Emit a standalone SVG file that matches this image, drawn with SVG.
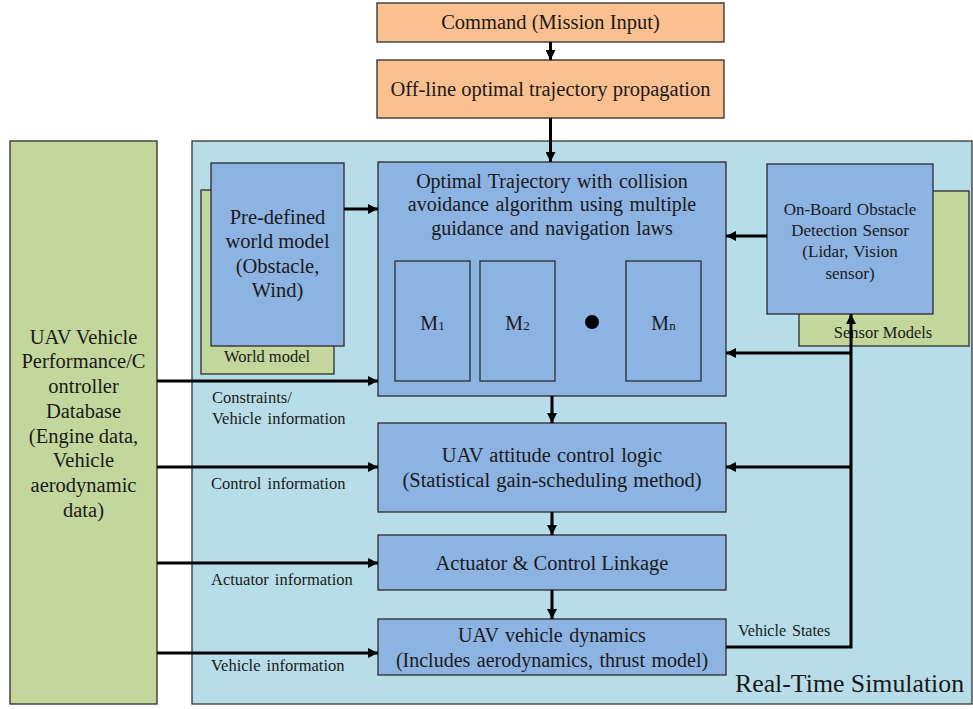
<svg xmlns="http://www.w3.org/2000/svg" width="973" height="709" viewBox="0 0 973 709" font-family="'Liberation Serif', 'DejaVu Serif', serif">
  <style>
    text { font-family: 'Liberation Serif', 'DejaVu Serif', serif; fill: #1a1a1a; }
    .box { stroke: #2b2b2b; stroke-width: 1.3; }
    .blue { fill: #8db3e2; }
    .orange { fill: #fac090; }
    .green { fill: #c3d69b; }
    .panel { fill: #b7dde8; stroke: #333; stroke-width: 1.3; }
    .c { text-anchor: middle; }
    .lbl { font-size: 16.5px; }
    .wire { fill: none; stroke: #000; stroke-width: 3; }
    .arrow { fill: none; stroke: #000; stroke-width: 3; marker-end: url(#head); }
  </style>
  <defs>
    <marker id="head" viewBox="0 0 10 10" refX="10" refY="5" markerWidth="10" markerHeight="10" markerUnits="userSpaceOnUse" orient="auto">
      <path d="M0,0 L10,5 L0,10 z" fill="#000"/>
    </marker>
  </defs>

  <!-- Real-time simulation panel -->
  <g id="realtime-panel">
    <rect class="panel" x="192" y="141" width="780" height="563"/>
    <text x="735" y="692" font-size="25.8">Real-Time Simulation</text>
  </g>

  <!-- Mission command -->
  <g id="command">
    <rect class="box orange" x="377" y="3" width="347" height="39"/>
    <text class="c" x="550.5" y="29" font-size="20.5">Command (Mission Input)</text>
  </g>

  <g id="offline">
    <rect class="box orange" x="377" y="60" width="347" height="58"/>
    <text class="c" x="550.5" y="96" font-size="20.5">Off-line optimal trajectory propagation</text>
  </g>

  <!-- Vehicle database -->
  <g id="database">
    <rect class="box green" x="10" y="141" width="147" height="563"/>
    <g class="c" font-size="20.5">
      <text x="83.5" y="344">UAV Vehicle</text>
      <text x="83.5" y="368">Performance/C</text>
      <text x="83.5" y="393">ontroller</text>
      <text x="83.5" y="418">Database</text>
      <text x="83.5" y="443">(Engine data,</text>
      <text x="83.5" y="467">Vehicle</text>
      <text x="83.5" y="492">aerodynamic</text>
      <text x="83.5" y="517">data)</text>
    </g>
  </g>

  <!-- World model stack -->
  <g id="world-model">
    <rect class="box green" x="201" y="190" width="133" height="184"/>
    <text class="c lbl" x="267" y="362">World model</text>
    <rect class="box blue" x="211" y="163" width="133" height="183"/>
    <g class="c" font-size="20.5">
      <text x="277.5" y="224">Pre-defined</text>
      <text x="277.5" y="248">world model</text>
      <text x="277.5" y="273">(Obstacle,</text>
      <text x="277.5" y="297">Wind)</text>
    </g>
  </g>

  <!-- Guidance / collision avoidance -->
  <g id="trajectory">
    <rect class="box blue" x="378" y="162" width="348" height="234"/>
    <g class="c" font-size="20" word-spacing="1.5">
      <text x="552" y="188">Optimal Trajectory with collision</text>
      <text x="552" y="211">avoidance algorithm using multiple</text>
      <text x="552" y="235">guidance and navigation laws</text>
    </g>
    <rect class="box blue" x="395" y="261" width="75" height="120"/>
    <text class="c" x="432.5" y="330" font-size="20">M<tspan font-size="13">1</tspan></text>
    <rect class="box blue" x="480" y="261" width="75" height="120"/>
    <text class="c" x="517.5" y="330" font-size="20">M<tspan font-size="13">2</tspan></text>
    <circle cx="592" cy="322" r="7" fill="#000"/>
    <rect class="box blue" x="626" y="261" width="75" height="120"/>
    <text class="c" x="663.5" y="330" font-size="20">M<tspan font-size="13">n</tspan></text>
  </g>

  <!-- Sensor stack -->
  <g id="sensor">
    <rect class="box green" x="799" y="191" width="170" height="155"/>
    <text class="c lbl" x="883" y="338">Sensor Models</text>
    <rect class="box blue" x="767" y="164" width="166" height="150"/>
    <g class="c" font-size="17" word-spacing="1">
      <text x="850" y="215">On-Board Obstacle</text>
      <text x="850" y="236">Detection Sensor</text>
      <text x="850" y="257">(Lidar, Vision</text>
      <text x="850" y="279">sensor)</text>
    </g>
  </g>

  <g id="attitude">
    <rect class="box blue" x="378" y="423" width="348" height="89"/>
    <g class="c" font-size="20.5" word-spacing="1">
      <text x="552" y="462">UAV attitude control logic</text>
      <text x="552" y="487">(Statistical gain-scheduling method)</text>
    </g>
  </g>

  <g id="actuator">
    <rect class="box blue" x="378" y="535" width="348" height="55"/>
    <text class="c" x="552" y="570" font-size="20.5">Actuator &amp; Control Linkage</text>
  </g>

  <g id="dynamics">
    <rect class="box blue" x="378" y="619" width="348" height="56"/>
    <g class="c" font-size="20" word-spacing="1.5">
      <text x="552" y="642">UAV vehicle dynamics</text>
      <text x="552" y="667">(Includes aerodynamics, thrust model)</text>
    </g>
  </g>

  <!-- Signal flow -->
  <g id="connectors">
    <path class="arrow" d="M550.5,42 V60"/>
    <path class="arrow" d="M550.5,118 V162"/>
    <path class="arrow" d="M344,209 H378"/>
    <path class="arrow" d="M767,236 H726"/>
    <path class="arrow" d="M157,381 H378"/>
    <path class="arrow" d="M552,396 V423"/>
    <path class="arrow" d="M157,467 H378"/>
    <path class="arrow" d="M552,512 V535"/>
    <path class="arrow" d="M157,563 H378"/>
    <path class="arrow" d="M552,590 V619"/>
    <path class="arrow" d="M157,653 H378"/>
    <path class="wire" d="M726,647 H851 V330"/>
    <path class="arrow" d="M851,330 V314"/>
    <path class="arrow" d="M851,353 H726"/>
    <path class="arrow" d="M851,467 H726"/>
  </g>

  <!-- Signal labels -->
  <g id="labels" class="lbl" word-spacing="2">
    <text x="212" y="403">Constraints/</text>
    <text x="212" y="424">Vehicle information</text>
    <text x="211" y="489">Control information</text>
    <text x="211" y="585">Actuator information</text>
    <text x="211" y="671">Vehicle information</text>
    <text x="738" y="636" font-size="16">Vehicle States</text>
  </g>
</svg>
